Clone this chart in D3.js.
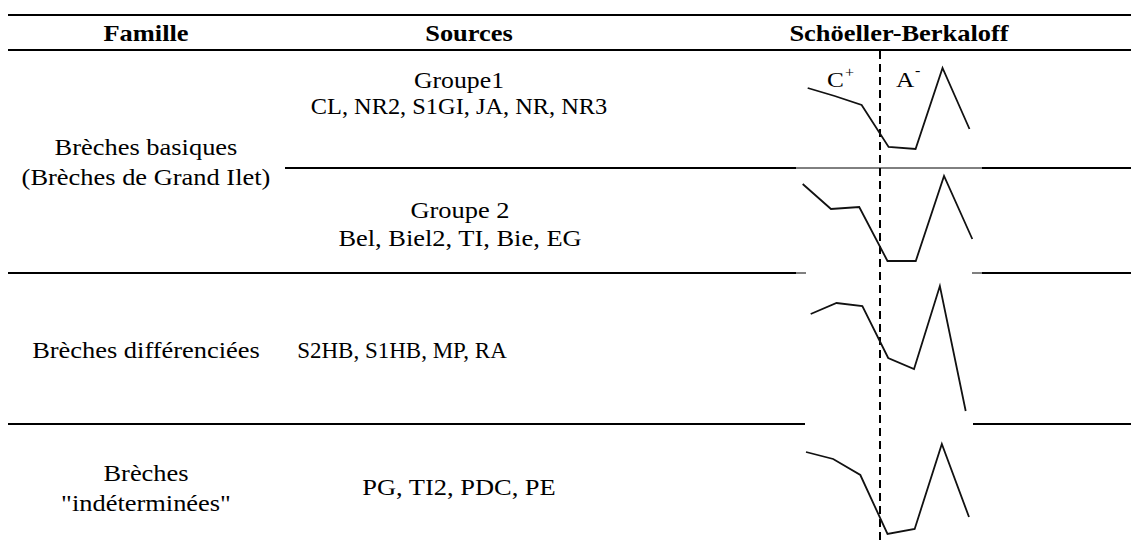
<!DOCTYPE html>
<html>
<head>
<meta charset="utf-8">
<script src="https://cdn.jsdelivr.net/npm/d3@7"></script>
<style>
  html, body { margin: 0; padding: 0; background: #fff; }
  svg { display: block; }
</style>
</head>
<body>
<svg id="chart" width="1131" height="542"></svg>
<script>
// ---------- DATA ----------
const headers = ["Famille", "Sources", "Schöeller-Berkaloff"];
const familles = [
  ["Brèches basiques", "(Brèches de Grand Ilet)"],
  ["Brèches différenciées"],
  ["Brèches", "\"indéterminées\""]
];
const sources = [
  ["Groupe1", "CL, NR2, S1GI, JA, NR, NR3"],
  ["Groupe 2", "Bel, Biel2, TI, Bie, EG"],
  ["S2HB, S1HB, MP, RA"],
  ["PG, TI2, PDC, PE"]
];
const ions = ["Ca", "Mg", "Na+K", "Cl", "SO4", "HCO3", "NO3"];
const cationLabel = "C";
const anionLabel = "A";
// relative heights of each Schoeller sketch (one per source row)
const sketch1 = [80, 72, 63, 21, 19, 100, 39];
const sketch2 = [89, 64, 66, 12, 12, 97, 34];
const sketch3 = [110, 121, 118, 66, 55, 138, 13];
const sketch4 = [90, 83, 67, 8, 13, 98, 25];
const sketches = [sketch1, sketch2, sketch3, sketch4];

// ---------- LAYOUT ----------
const svg = d3.select("#chart");
const FONT = "'Liberation Serif', 'Times New Roman', serif";
const FS = 23, SX = 1.15;
const W = 1131;

function label(txt, cx, by, opts = {}) {
  const sx = opts.sx || SX;
  const g = svg.append("g").attr("transform", `translate(${cx},${by}) scale(${sx},1)`);
  g.append("text")
    .attr("text-anchor", opts.anchor || "middle")
    .attr("font-family", FONT)
    .attr("font-size", opts.size || FS)
    .attr("font-weight", opts.bold ? "bold" : "normal")
    .attr("fill", "#000")
    .text(txt);
}

function hline(x1, x2, y, w) {
  svg.append("line").attr("x1", x1).attr("x2", x2).attr("y1", y).attr("y2", y)
    .attr("stroke", "#000").attr("stroke-width", w);
}

// header
const headerX = [146, 469, 899];
headers.forEach((h, i) => label(h, headerX[i], 41, { bold: true }));
hline(8, W, 15, 2.2);
hline(8, W, 50, 2.2);

// row separator lines
hline(285, 796, 168, 1.8); hline(796, 982, 168, 1); hline(982, W, 168, 1.8);
hline(8, 796, 273, 1.8); hline(796, 806, 273, 1); hline(972, 982, 273, 1); hline(982, W, 273, 1.8);
hline(8, 805, 424, 1.8); hline(973, W, 424, 1.8);

// famille labels
const famPos = [[155, 185], [358], [481, 511]];
familles.forEach((lines, i) => lines.forEach((t, j) => label(t, 146, famPos[i][j])));

// sources labels
const srcPos = [
  { cx: 459, ys: [88, 114], sx: [1.12, 1.06] },
  { cx: 460, ys: [218, 246], sx: [1.15, 1.15] },
  { cx: 402, ys: [358], sx: [1.0] },
  { cx: 459, ys: [495], sx: [1.15] }
];
sources.forEach((lines, i) => lines.forEach((t, j) =>
  label(t, srcPos[i].cx, srcPos[i].ys[j], { sx: srcPos[i].sx[j] })));

// dashed separator cations | anions
svg.append("line").attr("x1", 880).attr("x2", 880).attr("y1", 51).attr("y2", 541)
  .attr("stroke", "#000").attr("stroke-width", 2).attr("stroke-dasharray", "8,5");

// sketches
const sketchLayout = [
  { x0: 807.7, x1: 969.5, base: 168 },
  { x0: 802.7, x1: 972.3, base: 273 },
  { x0: 810.7, x1: 965.7, base: 424 },
  { x0: 806, x1: 969, base: 542 }
];
sketches.forEach((vals, i) => {
  const L = sketchLayout[i];
  const x = d3.scalePoint().domain(ions).range([L.x0, L.x1]);
  const y = d3.scaleLinear().domain([0, 150]).range([L.base, L.base - 150]);
  const line = d3.line().x((d, k) => x(ions[k])).y(d => y(d));
  svg.append("path").datum(vals).attr("d", line)
    .attr("fill", "none").attr("stroke", "#111").attr("stroke-width", 1.8)
    .attr("stroke-linejoin", "miter");
});

// C+ / A- labels
label(cationLabel, 827, 87, { anchor: "start", size: 22 });
label("+", 845, 77, { anchor: "start", size: 14 });
label(anionLabel, 896, 87, { anchor: "start", size: 22 });
label("-", 915, 75, { anchor: "start", size: 14 });
</script>
</body>
</html>
